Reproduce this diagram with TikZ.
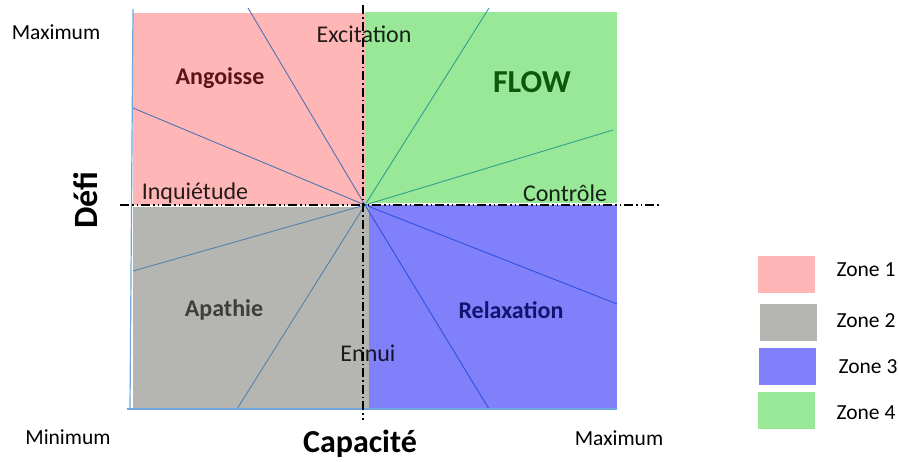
\documentclass[tikz,border=0pt]{standalone}
\usepackage{fontspec}
\setmainfont{Carlito}
\usetikzlibrary{calc}
\definecolor{zoneA}{HTML}{FFB6B6}
\definecolor{zoneB}{HTML}{B5B6B1}
\definecolor{zoneC}{HTML}{8080FA}
\definecolor{zoneD}{HTML}{98E898}
\definecolor{rayA}{HTML}{4F74B4}
\definecolor{rayB}{HTML}{5383AC}
\definecolor{rayC}{HTML}{3050E0}
\definecolor{rayD}{HTML}{2FA08C}
\definecolor{edgeline}{HTML}{6FA6DC}

\begin{document}
\begin{tikzpicture}[x=1pt, y=-1pt,
	ray/.style={line width=0.9pt},
	axisline/.style={line width=1.3pt, color=black},
	bigtext/.style={font=\bfseries\fontsize{32}{36}\selectfont},
	zonelabel/.style={font=\bfseries\fontsize{24}{28}\selectfont},
	zonetext/.style={font=\fontsize{24}{28}\selectfont, text=black!85},
	smalltext/.style={font=\fontsize{21.5}{25}\selectfont},
	legendbox/.style={minimum width=57pt, minimum height=37pt, inner sep=0pt}]
		%%%%% START %%%%%
		\useasboundingbox (0, 0) rectangle (899, 461);
		
		% zones
		\fill[zoneA] (133, 13) rectangle (365, 205);
		\fill[zoneD] (365, 12) rectangle (617, 203);
		\fill[zoneB] (133, 207) rectangle (369, 409);
		\fill[zoneC] (369, 205) rectangle (617, 410);
		
		\coordinate (o) at (365, 205);
		
		% rays
		\draw[ray, color=rayA] (o) -- (248, 8);
		\draw[ray, color=rayA] (o) -- (133, 108);
		\draw[ray, color=rayD] (o) -- (489, 8);
		\draw[ray, color=rayD] (o) -- (613, 130);
		\draw[ray, color=rayB] (o) -- (133, 271);
		\draw[ray, color=rayB] (o) -- (237, 409);
		\draw[ray, color=rayC] (o) -- (617, 304);
		\draw[ray, color=rayC] (o) -- (489, 409);
		
		% edges
		\draw[line width=1.2pt, color=edgeline] (133, 9) -- (130, 409);
		\draw[line width=1.2pt, color=edgeline] (127, 409) -- (617, 409);
		
		% axes and labels on the zones
		\begin{scope}[blend mode=multiply]
			\draw[axisline, dash pattern=on 9pt off 3pt on 1.5pt off 3pt] (363, 5) -- (363, 420);
			\draw[axisline, dash pattern=on 9pt off 3pt on 1.5pt off 3pt on 1.5pt off 3pt] (120, 205) -- (659, 205);
			\node[zonetext] (excitation) at (364, 34) {Excitation};
			\node[zonetext] (inquietude) at (195, 193) {Inquiétude};
			\node[zonetext] (controle) at (565, 193) {Contrôle};
			\node[zonetext] (ennui) at (368, 353) {Ennui};
		\end{scope}
		
		\node[zonelabel, text={rgb,255:red,92;green,20;blue,24}] (angoisse) at (220, 78) {Angoisse};
		\node[font=\bfseries\fontsize{32}{36}\selectfont, text={rgb,255:red,14;green,88;blue,14}] (flow) at (532, 82) {FLOW};
		\node[zonelabel, text={rgb,255:red,62;green,62;blue,60}] (apathie) at (224, 310) {Apathie};
		\node[zonelabel, text={rgb,255:red,20;green,20;blue,112}] (relaxation) at (511, 310) {Relaxation};
		
		% axis names
		\node[smalltext] (maxdefi) at (56, 32) {Maximum};
		\node[smalltext] (mincap) at (68, 437) {Minimum};
		\node[smalltext] (maxcap) at (619, 438) {Maximum};
		\node[bigtext] (capacite) at (360, 444) {Capacité};
		\node[bigtext, font=\bfseries\fontsize{34}{38}\selectfont, rotate=90] (defi) at (86, 200) {Défi};
		
		% legend
		\node[legendbox, fill=zoneA] (boxA) at (786.5, 274.5) {};
		\node[legendbox, fill=zoneB] (boxB) at (788, 322) {};
		\node[legendbox, fill=zoneC] (boxC) at (787, 366) {};
		\node[legendbox, fill=zoneD] (boxD) at (786.5, 410) {};
		\node[smalltext] (zoneone) at (866, 270) {Zone 1};
		\node[smalltext] (zonetwo) at (866, 321) {Zone 2};
		\node[smalltext] (zonethree) at (868, 367) {Zone 3};
		\node[smalltext] (zonefour) at (866, 413) {Zone 4};
		%%%%% END %%%%%
\end{tikzpicture}
\end{document}
